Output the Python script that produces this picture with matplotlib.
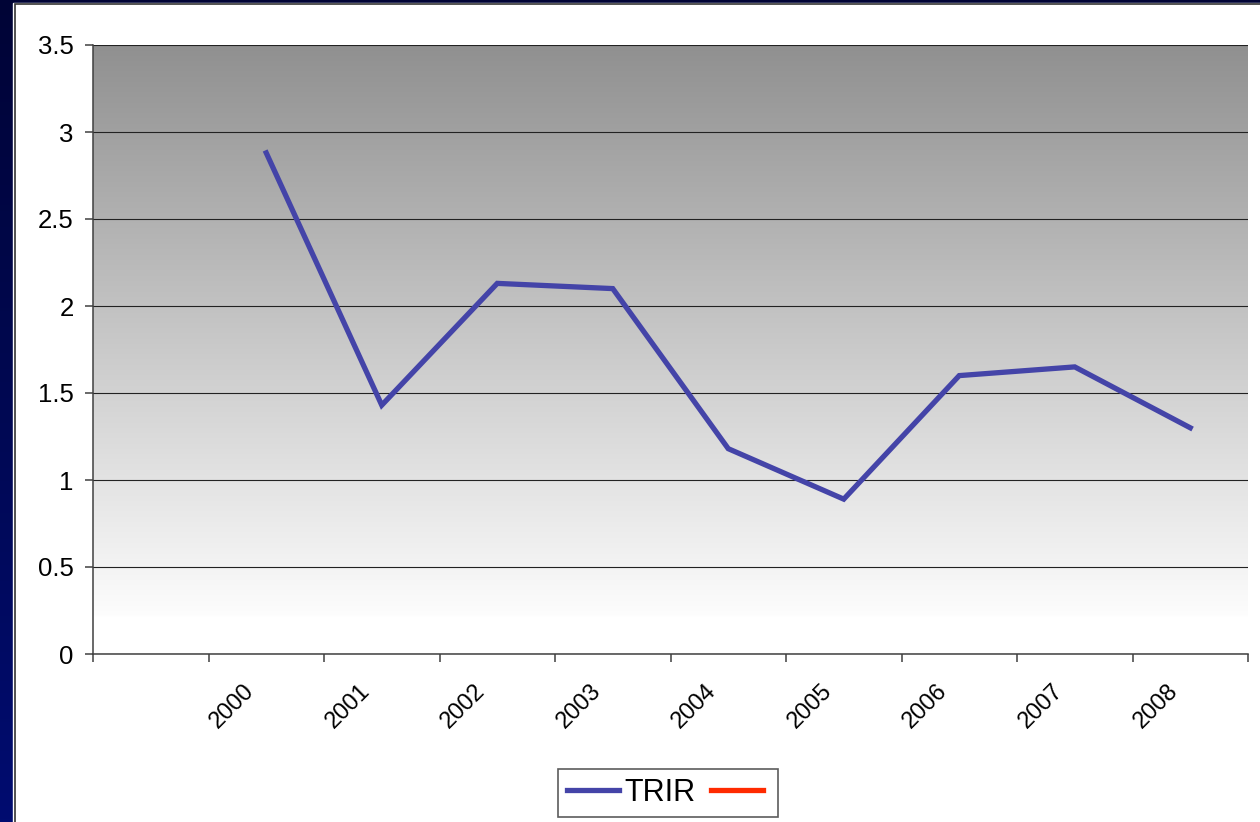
import matplotlib.pyplot as plt
import numpy as np
from matplotlib.patches import Rectangle
from matplotlib.lines import Line2D
from matplotlib.transforms import ScaledTranslation

plt.rcParams["font.family"] = ["Liberation Sans", "DejaVu Sans"]

# Data: first category is an empty slot, as in the original sheet
categories = ["", "2000", "2001", "2002", "2003", "2004", "2005", "2006", "2007", "2008"]
trir = [np.nan, 2.88, 1.43, 2.13, 2.10, 1.18, 0.89, 1.60, 1.65, 1.30]
second_series = []  # empty red series shown only in the legend
y_ticks = [0, 0.5, 1, 1.5, 2, 2.5, 3, 3.5]
y_labels = ["0", "0.5", "1", "1.5", "2", "2.5", "3", "3.5"]

W, H, DPI = 1260, 822, 100
fig = plt.figure(figsize=(W / DPI, H / DPI), dpi=DPI)

# navy slide background with a white panel
bg = fig.add_axes([0, 0, 1, 1], zorder=-10)
bg.axis("off")
navy = np.linspace(0, 1, 256).reshape(-1, 1)
cmap_navy = plt.matplotlib.colors.LinearSegmentedColormap.from_list("navy", ["#000436", "#000c70"])
bg.imshow(navy, cmap=cmap_navy, aspect="auto", extent=(0, 1, 0, 1))
bg.set_xlim(0, 1)
bg.set_ylim(0, 1)
bg.add_patch(Rectangle((13 / W, -0.01), 1.1, 1.01 - 3 / H, facecolor="white",
                       edgecolor="white", lw=1))
bg.add_patch(Rectangle((14.5 / W, -0.01), 1.1, 1.01 - 4.5 / H, facecolor="white",
                       edgecolor="#333333", lw=1.2))

left, right, top, bottom = 93, 1248, 45, 654
ax = fig.add_axes([left / W, (H - bottom) / H, (right - left) / W, (bottom - top) / H])
ax.set_facecolor("none")

# grey-to-white gradient in the plot area
grad = np.linspace(0, 1, 256).reshape(-1, 1)
cmap_grey = plt.matplotlib.colors.LinearSegmentedColormap.from_list(
    "grey", [(0, "#909090"), (0.94, "#fdfdfd"), (0.941, "#ffffff"), (1, "#ffffff")])
ax.imshow(grad, cmap=cmap_grey, aspect="auto", extent=(0, 1, 0, 1),
          transform=ax.transAxes, zorder=0)

x = np.arange(len(categories)) + 0.5
ax.plot(x, trir, color="#4444a8", lw=3.8, zorder=3, solid_joinstyle="miter")
red_line, = ax.plot(second_series, second_series, color="#ff2a00", lw=3.8)

ax.set_xlim(0, len(categories))
ax.set_ylim(0, 3.5)

ax.set_yticks(y_ticks)
ax.set_yticklabels(y_labels, fontsize=18.5)
ax.set_xticks(np.arange(len(categories) + 1))
ax.set_xticklabels([])
ax.tick_params(axis="both", direction="out", length=5.8, width=1.1, color="#404040")
ax.tick_params(axis="y", pad=8)
ax.grid(axis="y", color="#222222", lw=0.8, zorder=1)
ax.set_axisbelow(True)

for s in ["top", "right"]:
    ax.spines[s].set_visible(False)
for s in ["left", "bottom"]:
    ax.spines[s].set_color("#404040")
    ax.spines[s].set_linewidth(1.1)
    ax.spines[s].set_zorder(4)

# rotated category labels, end of text pointing at category centre
shift = ScaledTranslation(-15 / DPI, -34 / DPI, fig.dpi_scale_trans)
for xi, lab in zip(x, categories):
    ax.text(xi, 0, lab, transform=ax.get_xaxis_transform() + shift, rotation=45,
            ha="right", va="center", rotation_mode="anchor", fontsize=17)

blue_handle = Line2D([], [], color="#4444a8", lw=3.8)
leg = ax.legend([blue_handle, red_line], ["TRIR", ""], ncol=2, loc="center",
                bbox_to_anchor=(668 / W, (H - 793) / H), bbox_transform=fig.transFigure,
                fontsize=22, frameon=True, fancybox=False, edgecolor="#333333",
                handlelength=1.7, handletextpad=0.2, columnspacing=0.5,
                borderpad=0.3, borderaxespad=0)
leg.get_frame().set_linewidth(1.2)

fig.savefig("out.png", dpi=DPI)
